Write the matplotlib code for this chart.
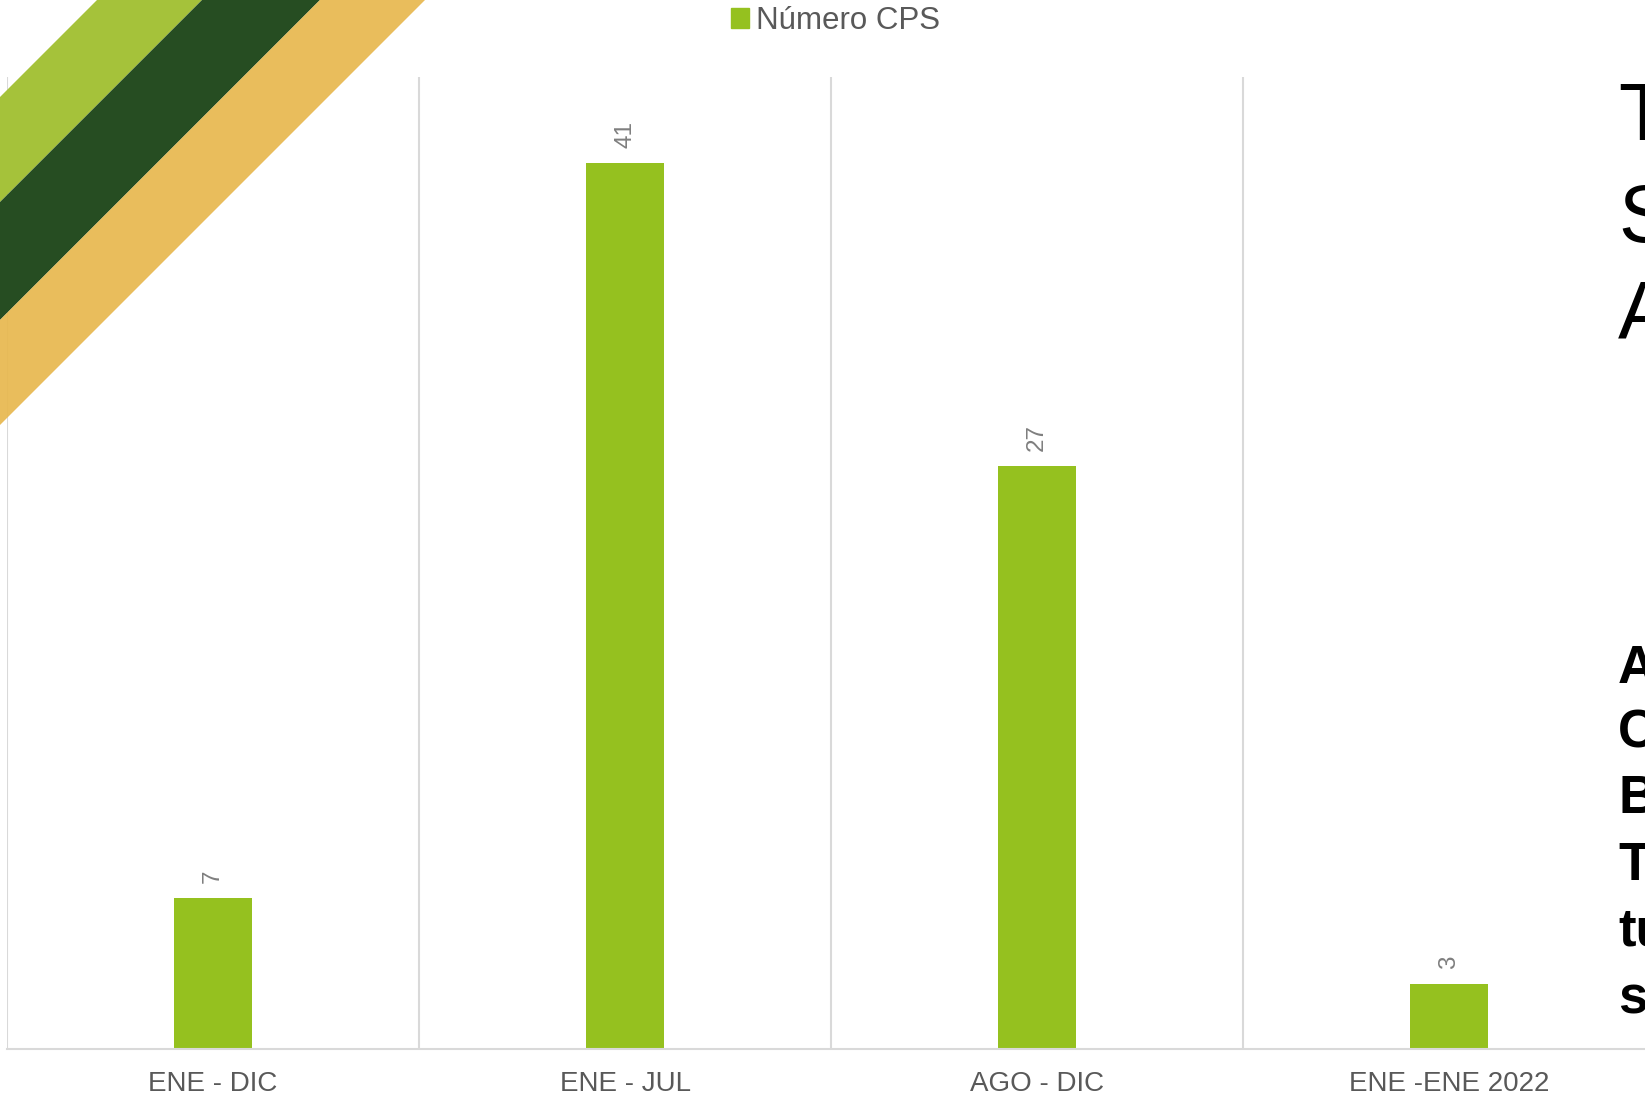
import matplotlib
matplotlib.use("Agg")
import matplotlib.pyplot as plt
from matplotlib.patches import Polygon, Patch

plt.rcParams['font.family'] = ['Liberation Sans', 'DejaVu Sans']

# data
categorias = ["ENE - DIC", "ENE - JUL", "AGO - DIC", "ENE -ENE 2022"]
numero_cps = [7, 41, 27, 3]
serie = "Número CPS"

# slide text cut off by the right edge
titulo = ["T", "S", "A"]
cuerpo = ["A", "C", "B", "T", "tu", "s"]

W, H = 1645, 1098
verde = "#95C11F"

fig = plt.figure(figsize=(W / 100, H / 100), dpi=100)
ax = fig.add_axes([7 / W, 49 / H, 1648 / W, 972 / H])

x = list(range(len(categorias)))
ax.bar(x, numero_cps, width=0.19, color=verde, zorder=2)
for xi, v in zip(x, numero_cps):
    ax.annotate(str(v), (xi, v), xytext=(0, 11), textcoords="offset points",
                rotation=90, ha="center", va="bottom", fontsize=17.5, color="#7F7F7F")

# separators between categories
for b in [-0.5, 0.5, 1.5, 2.5]:
    ax.axvline(b, color="#D9D9D9", lw=1.5, zorder=1)

ax.set_xlim(-0.5, 3.5)
ax.set_ylim(0, 45)
ax.set_xticks(x)
ax.set_xticklabels(categorias, fontsize=20, color="#595959")
ax.tick_params(axis="x", length=0, pad=16)
ax.set_yticks([])
for s in ["top", "right", "left"]:
    ax.spines[s].set_visible(False)
ax.spines["bottom"].set_color("#D9D9D9")
ax.spines["bottom"].set_linewidth(1.5)

# legend
fig.legend(handles=[Patch(color=verde, label=serie)], loc="center",
           bbox_to_anchor=(835 / W, 1 - 21 / H), frameon=False, fontsize=22.5,
           handlelength=0.6, handleheight=0.6, handletextpad=0.2,
           borderpad=0, labelcolor="#595959")

# diagonal stripes in the top-left corner (pixel coords from top-left)
def banda(a, b, color, alpha=1.0):
    pts = [(a, 0), (b, 0), (0, b), (0, a)]
    pts = [(px / W, 1 - py / H) for px, py in pts]
    fig.patches.append(Polygon(pts, closed=True, transform=fig.transFigure,
                               facecolor=color, edgecolor="none", alpha=alpha, zorder=5))

banda(97, 202, "#A5C23A")
banda(202, 320, "#264D22")
banda(320, 425, "#E8B84F", alpha=0.93)

# text on the right
for t, yb in zip(titulo, [140, 242, 338]):
    fig.text(1618 / W, 1 - yb / H, t, fontsize=58, fontweight="light",
             color="black", va="baseline", ha="left")
for t, yb in zip(cuerpo, [683, 748, 813, 880, 946, 1013]):
    fig.text(1618 / W, 1 - yb / H, t, fontsize=38, fontweight="bold",
             color="black", va="baseline", ha="left")

fig.savefig("out.png", dpi=100)
